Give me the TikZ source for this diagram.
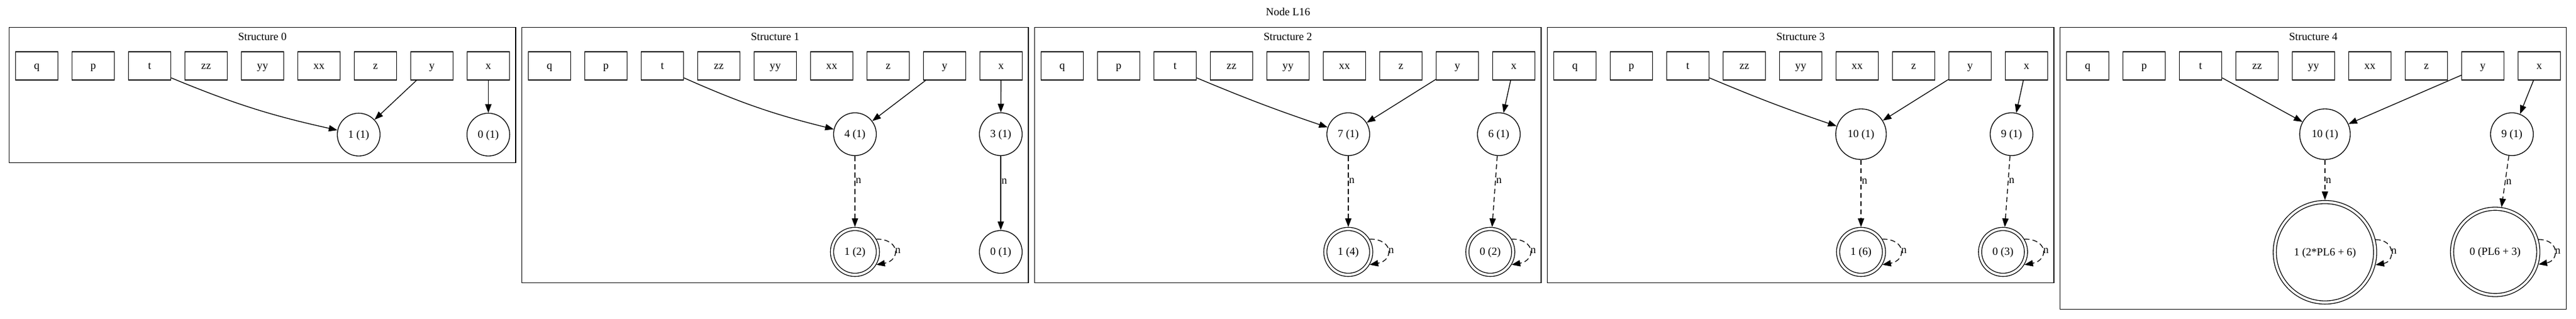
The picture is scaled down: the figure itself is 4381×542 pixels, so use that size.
\documentclass[tikz,border=0pt]{standalone}
\usepackage{fontspec}
\setmainfont{Liberation Serif}
\usetikzlibrary{arrows.meta}
\tikzset{
  every node/.style={font=\fontsize{14pt}{16pt}\selectfont, text height=9.8pt, text depth=1.4pt, inner sep=0pt},
  varbox/.style={draw, line width=1pt, minimum width=54pt, minimum height=36pt},
  st/.style={draw, circle, line width=1pt, minimum size=54.5pt},
  stw/.style={st, minimum size=64.5pt},
  dst/.style={draw, circle, line width=1pt, double, double distance=3pt, minimum size=#1, outer sep=2.5pt},
  dst/.default=58.5pt,
  cl/.style={draw, line width=1pt},
  arr/.style={-{Triangle[length=11pt,width=8pt]}, line width=1pt},
  darr/.style={arr, dash pattern=on 6.5pt off 4pt},
  lab/.style={anchor=west, inner sep=0.5pt},
}
\newcommand\mkvars[2]{%
  \foreach \v [count=\k from 0] in {q,p,t,zz,yy,xx,z,y,x}{%
    \node[varbox] (s#1\v) at ({#2+47+96*\k},112) {\v};}}
\begin{document}
\begin{tikzpicture}[x=0.75pt,y=-0.75pt]
\useasboundingbox (0,0) rectangle (4381,542);
\node (title) at (2190.5,21.4) {Node L16};

% ---------- Structure 0
\draw[cl] (15.5,46.7) rectangle (877,276.7);
\node (c0) at (446.25,62.5) {Structure 0};
\mkvars{0}{15.5}
\node[st] (s0a1) at (610,228.7) {1 (1)};
\node[st] (s0a0) at (830.5,228.7) {0 (1)};
\draw[arr] (s0t.-29) to[bend right=5] (s0a1);
\draw[arr] (s0y) -- (s0a1);
\draw[arr] (s0x) -- (s0a0);

% ---------- Structure 1
\draw[cl] (887.5,46.7) rectangle (1749,480.5);
\node (c1) at (1318.25,62.5) {Structure 1};
\mkvars{1}{887.5}
\node[st] (s1a4) at (1454,228) {4 (1)};
\node[st] (s1a3) at (1702,228) {3 (1)};
\node[dst] (s1a1) at (1454,428) {1 (2)};
\node[st] (s1a0) at (1702,428) {0 (1)};
\draw[arr] (s1t.-29) to[bend right=5] (s1a4);
\draw[arr] (s1y) -- (s1a4);
\draw[arr] (s1x) -- (s1a3);
\draw[darr] (s1a4) -- node[lab,pos=0.34]{n} (s1a1);
\draw[arr] (s1a3) -- node[lab,pos=0.33]{n} (s1a0);
\draw[darr] (s1a1.31) to[out=0,in=10,distance=31pt] node[lab]{n} (s1a1.-31);

% ---------- Structure 2
\draw[cl] (1759.5,46.7) rectangle (2621,480.5);
\node (c2) at (2190.25,62.5) {Structure 2};
\mkvars{2}{1759.5}
\node[st] (s2a7) at (2293,228) {7 (1)};
\node[st] (s2a6) at (2549,228) {6 (1)};
\node[dst] (s2a1) at (2293,428) {1 (4)};
\node[dst] (s2a0) at (2534.5,428) {0 (2)};
\draw[arr] (s2t.-29) to[bend right=2] (s2a7);
\draw[arr] (s2y) -- (s2a7);
\draw[arr] (s2x) -- (s2a6);
\draw[darr] (s2a7) -- node[lab,pos=0.34]{n} (s2a1);
\draw[darr] (s2a6) -- node[lab,pos=0.34]{n} (s2a0);
\draw[darr] (s2a1.31) to[out=0,in=10,distance=31pt] node[lab]{n} (s2a1.-31);
\draw[darr] (s2a0.31) to[out=0,in=10,distance=31pt] node[lab]{n} (s2a0.-31);

% ---------- Structure 3
\draw[cl] (2631.5,46.7) rectangle (3493,480.5);
\node (c3) at (3062.25,62.5) {Structure 3};
\mkvars{3}{2631.5}
\node[stw] (s3a10) at (3165,228) {10 (1)};
\node[st] (s3a9) at (3421,228) {9 (1)};
\node[dst] (s3a1) at (3165,428) {1 (6)};
\node[dst] (s3a0) at (3406.5,428) {0 (3)};
\draw[arr] (s3t.-29) to[bend right=2] (s3a10);
\draw[arr] (s3y) -- (s3a10);
\draw[arr] (s3x) -- (s3a9);
\draw[darr] (s3a10) -- node[lab,pos=0.31]{n} (s3a1);
\draw[darr] (s3a9) -- node[lab,pos=0.34]{n} (s3a0);
\draw[darr] (s3a1.31) to[out=0,in=10,distance=31pt] node[lab]{n} (s3a1.-31);
\draw[darr] (s3a0.31) to[out=0,in=10,distance=31pt] node[lab]{n} (s3a0.-31);

% ---------- Structure 4
\draw[cl] (3503.5,46.7) rectangle (4364.5,525.8);
\node (c4) at (3934.25,62.5) {Structure 4};
\mkvars{4}{3503.5}
\node[stw] (s4a10) at (3954,228) {10 (1)};
\node[st] (s4a9) at (4272,228) {9 (1)};
\node[dst=128pt] (s4a1) at (3954,428.6) {1 (2*PL6 + 6)};
\node[dst=110pt] (s4a0) at (4243.5,428) {0 (PL6 + 3)};
\draw[arr] (s4t.-29) -- (s4a10);
\draw[arr] (s4y) -- (s4a10);
\draw[arr] (s4x) -- (s4a9);
\draw[darr] (s4a10) -- node[lab,pos=0.5]{n} (s4a1);
\draw[darr] (s4a9) -- node[lab,pos=0.49]{n} (s4a0);
\draw[darr] (s4a1.14) to[out=0,in=10,distance=25.5pt] node[lab]{n} (s4a1.-14);
\draw[darr] (s4a0.16.3) to[out=0,in=10,distance=27pt] node[lab]{n} (s4a0.-16.3);
\end{tikzpicture}
\end{document}
